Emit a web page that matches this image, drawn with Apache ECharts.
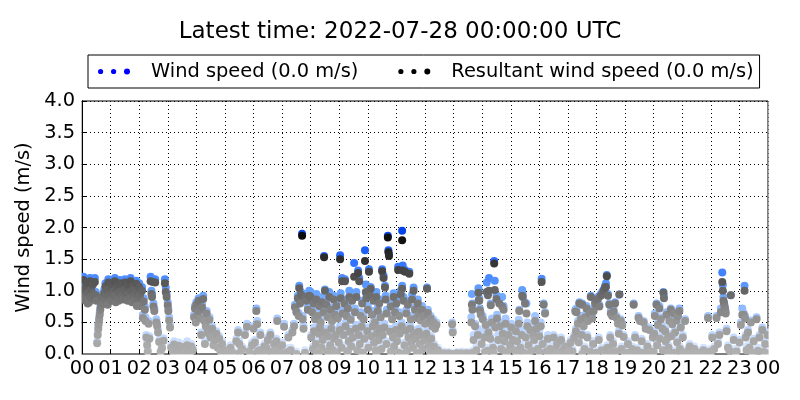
<!DOCTYPE html>
<html><head><meta charset="utf-8">
<script src="https://cdn.jsdelivr.net/npm/echarts@6/dist/echarts.min.js"></script>
<style>html,body{margin:0;padding:0;background:#fff}#chart{width:800px;height:400px}</style>
</head><body><div id="chart"></div>
<script>
// time of day (hours), one entry per sample
const hours = [
0.02,0.05,0.08,0.1,0.12,0.15,0.18,0.2,0.22,0.25,0.28,0.3,0.32,0.35,0.38,0.4,0.42,0.45,0.48,0.5,
0.53,0.55,0.57,0.58,0.6,0.62,0.64,0.66,0.68,0.7,
0.72,0.75,0.78,0.8,0.82,0.85,0.88,0.9,0.92,0.95,0.98,1.0,1.02,1.05,1.08,1.1,1.12,1.15,1.18,1.2,1.22,1.25,1.28,1.3,1.32,1.35,1.38,1.4,1.42,1.45,1.48,1.5,1.52,1.55,1.58,1.6,1.62,1.65,1.68,1.7,1.72,1.75,1.78,1.8,1.82,1.85,1.88,1.9,1.92,1.95,1.98,
2.0,2.03,2.06,2.1,2.13,2.16,2.2,2.22,2.25,2.28,2.3,2.33,2.36,2.4,2.43,2.45,2.48,2.5,2.53,2.56,2.6,2.63,2.66,2.7,2.75,2.8,2.85,2.9,2.93,2.96,3.0,3.02,3.05,3.08,
3.12,3.18,3.22,3.28,3.32,3.38,3.42,3.48,3.52,3.58,3.62,3.68,3.72,3.78,3.82,3.88,
3.92,3.95,3.98,4.0,4.04,4.08,4.1,4.14,4.17,4.2,4.24,4.28,4.3,4.33,4.36,4.4,4.43,4.46,4.5,4.55,4.6,4.65,4.7,4.75,4.8,4.85,4.9,
5.0,5.1,5.2,5.3,5.4,5.46,5.5,5.6,5.7,5.77,5.85,5.95,6.0,6.05,6.1,6.13,6.2,6.24,6.3,6.38,6.45,6.5,6.59,6.65,6.72,6.8,6.83,6.9,7.0,7.07,7.15,7.22,7.3,7.36,7.42,
7.45,7.5,7.55,7.58,7.6,7.63,7.66,7.7,7.72,7.75,7.8,7.85,7.9,7.95,8.0,
8.47,9.03,9.1,9.2,9.52,9.66,9.7,9.9,10.04,10.1,10.5,10.55,10.6,10.7,10.72,10.74,11.06,11.2,11.22,11.3,11.45,11.6,12.07,8.5,9.93,11.2,
8.05,8.1,8.15,8.2,8.25,8.3,8.35,8.4,8.45,8.55,8.6,8.65,8.7,8.75,8.8,8.85,8.9,8.95,9.05,9.12,9.18,9.25,9.3,9.35,9.4,9.45,9.55,9.6,9.75,9.8,9.85,9.95,10.0,10.08,10.15,10.2,10.25,10.3,10.35,10.4,10.45,10.62,10.66,10.8,10.85,10.9,10.95,11.0,11.1,11.15,11.25,11.35,11.4,11.5,11.55,11.65,11.7,11.75,11.8,11.85,11.9,11.95,12.0,12.1,12.15,12.2,12.25,12.3,12.35,12.4,
8.02,8.08,8.12,8.18,8.22,8.28,8.32,8.38,8.42,8.5,8.58,8.62,8.68,8.72,8.78,8.82,8.88,8.92,8.98,9.02,9.08,9.15,9.22,9.28,9.33,9.38,9.42,9.48,9.58,9.63,9.68,9.72,9.78,9.83,9.88,9.98,10.02,10.12,10.18,10.22,10.28,10.32,10.38,10.42,10.48,10.52,10.58,10.65,10.78,10.82,10.88,10.92,10.98,11.02,11.08,11.12,11.18,11.28,11.32,11.38,11.42,11.48,11.52,11.58,11.62,11.68,11.72,11.78,11.82,11.88,11.92,11.98,12.05,12.12,12.18,12.22,12.28,12.32,12.38,12.45,
12.5,12.58,12.66,12.74,12.82,12.9,12.95,12.97,13.05,13.12,13.2,13.28,13.36,13.44,13.52,13.6,
13.64,13.66,13.87,13.88,13.9,13.92,13.95,14.16,14.2,14.24,14.3,14.42,14.44,14.5,14.6,14.7,14.75,15.3,15.4,15.42,15.5,15.55,15.85,16.08,16.15,16.2,
13.62,13.7,13.75,13.8,13.85,13.98,14.02,14.08,14.12,14.18,14.22,14.28,14.34,14.38,14.46,14.52,14.56,14.62,14.66,14.72,14.78,14.82,14.88,14.92,14.98,15.02,15.08,15.12,15.18,15.22,15.28,15.34,15.38,15.46,15.52,15.58,15.62,15.68,15.72,15.78,15.82,15.9,15.95,16.0,16.05,16.12,16.25,16.3,16.38,16.45,
16.5,16.56,16.62,16.7,16.76,16.82,16.9,16.96,17.02,17.1,17.16,17.22,
17.26,17.3,17.35,17.4,17.45,17.5,17.55,17.6,17.65,17.7,17.75,17.8,17.85,17.9,17.95,18.0,18.05,18.1,18.15,18.2,18.25,18.3,18.33,18.36,18.4,18.45,18.5,18.55,18.6,18.65,18.7,18.75,18.8,18.85,18.9,18.95,
17.28,17.38,17.48,17.58,17.68,17.78,17.88,17.98,18.08,18.18,18.28,18.38,18.48,18.58,18.68,18.78,18.88,18.98,
19.05,19.1,19.18,19.25,19.3,19.35,19.42,19.47,19.52,19.58,19.65,19.72,19.78,19.85,19.92,19.97,
20.04,20.1,20.15,20.2,20.25,20.3,20.34,20.36,20.4,20.45,20.5,20.55,20.6,20.65,20.7,20.75,20.8,20.85,20.9,20.95,
20.02,20.12,20.22,20.32,20.42,20.52,20.62,20.72,20.82,20.92,21.02,21.1,21.18,21.26,21.34,21.42,21.5,21.58,21.66,21.74,21.82,21.9,21.98,
22.05,22.12,22.2,22.25,22.3,22.35,22.4,22.42,22.44,22.46,22.48,22.5,22.52,22.55,22.6,22.7,22.8,22.9,23.0,23.05,23.1,23.15,23.18,23.2,23.22,23.3,23.35,23.4,23.5,23.6,23.7,23.8,23.9,23.98,
5.05,5.25,5.55,5.9,6.15,6.4,6.7,6.95,7.2,7.5,7.8,8.3,8.8,9.3,9.8,10.3,10.8,11.3,11.8,12.2,12.3,12.4,13.7,14.1,14.4,14.8,15.2,15.6,16.0,16.3,16.6,17.0,17.5,18.0,18.5,19.0,19.2,19.4,19.6,19.8,20.0,20.5,21.0,21.2,21.4,21.6,21.8,22.0,22.65,22.85,23.25,23.45,23.65,23.85,23.95
];

// wind speed (m/s)
const windSpeed = [
1.05,1.22,0.95,0.88,1.12,0.92,1.18,0.82,1.02,0.86,1.2,0.95,1.08,0.9,1.15,1.0,0.96,1.2,0.98,0.88,
0.2,0.34,0.44,0.5,0.58,0.66,0.74,0.8,0.92,0.86,
0.95,0.84,1.02,0.9,1.12,0.98,1.06,0.82,1.18,0.94,1.0,1.1,0.88,1.16,0.9,1.04,0.96,1.2,0.86,1.08,0.95,1.12,0.88,1.02,1.17,0.92,1.05,0.98,1.14,0.9,1.06,1.18,0.94,1.02,1.1,0.88,1.15,1.0,0.92,1.2,1.04,0.86,1.12,0.96,1.06,0.9,1.0,1.16,0.8,1.05,0.92,
1.12,0.98,0.8,1.06,0.62,0.88,0.75,0.58,0.3,0.18,0.08,0.52,0.28,1.22,1.0,0.95,1.18,0.8,0.72,1.18,0.55,0.48,0.38,0.22,0.06,0.12,0.25,1.18,1.05,0.95,0.82,0.72,0.58,0.46,
0.14,0.08,0.2,0.06,0.12,0.18,0.05,0.1,0.15,0.04,0.09,0.2,0.12,0.06,0.16,0.1,
0.62,0.76,0.55,0.82,0.66,0.88,0.72,0.6,0.34,0.78,0.92,0.56,0.2,0.48,0.68,0.42,0.36,0.58,0.3,0.44,0.18,0.26,0.36,0.14,0.28,0.08,0.2,
0.1,0.06,0.14,0.04,0.24,0.38,0.2,0.12,0.34,0.48,0.08,0.18,0.44,0.22,0.72,0.52,0.1,0.34,0.06,0.16,0.14,0.26,0.34,0.08,0.2,0.24,0.56,0.12,0.18,0.48,0.06,0.3,0.1,0.38,0.48,
0.78,0.7,0.92,0.65,1.08,0.85,0.98,1.9,0.6,0.45,0.95,0.88,0.75,1.0,0.98,
1.55,1.56,1.2,1.18,1.44,1.32,1.2,1.64,1.34,1.06,1.34,1.24,1.08,1.87,1.64,1.58,1.38,1.95,1.4,1.33,1.3,1.05,1.05,1.02,1.1,1.08,
0.72,0.88,0.6,0.95,0.66,0.8,0.55,0.9,0.7,0.85,0.62,0.98,0.74,0.58,0.92,0.68,0.82,0.6,0.96,0.7,0.86,0.64,0.78,1.0,0.58,0.9,0.72,0.98,0.66,0.84,0.6,0.94,0.76,1.0,0.68,0.9,0.56,0.98,0.74,0.86,0.62,0.92,0.7,0.8,0.6,0.96,0.72,0.88,0.66,1.0,0.9,0.7,0.84,0.6,0.94,0.74,0.62,0.86,0.68,0.58,0.76,0.64,0.52,0.7,0.56,0.6,0.48,0.54,0.44,0.5,
0.3,0.12,0.42,0.2,0.05,0.36,0.48,0.15,0.26,0.4,0.08,0.32,0.18,0.45,0.1,0.28,0.38,0.06,0.22,0.44,0.14,0.34,0.5,0.08,0.25,0.4,0.16,0.3,0.46,0.1,0.36,0.2,0.48,0.06,0.28,0.42,0.15,0.32,0.5,0.22,0.1,0.38,0.26,0.45,0.12,0.34,0.48,0.2,0.4,0.08,0.3,0.16,0.44,0.24,0.05,0.36,0.5,0.18,0.42,0.1,0.3,0.46,0.22,0.14,0.38,0.28,0.06,0.4,0.2,0.34,0.12,0.26,0.36,0.18,0.08,0.28,0.04,0.16,0.06,0.1,
0.03,0.02,0.04,0.02,0.03,0.02,0.5,0.37,0.02,0.03,0.02,0.04,0.02,0.03,0.02,0.04,
0.95,0.8,1.04,0.98,0.88,0.72,0.66,1.13,0.98,1.2,0.8,1.47,1.16,0.93,0.88,0.9,0.76,0.7,1.01,0.94,0.82,0.8,0.6,1.19,0.8,0.66,
0.58,0.3,0.48,0.12,0.4,0.22,0.6,0.35,0.5,0.1,0.44,0.28,0.56,0.18,0.46,0.62,0.3,0.5,0.14,0.4,0.24,0.56,0.08,0.36,0.2,0.48,0.3,0.12,0.42,0.26,0.54,0.16,0.38,0.06,0.32,0.5,0.2,0.44,0.1,0.36,0.28,0.48,0.14,0.34,0.5,0.22,0.08,0.3,0.14,0.04,
0.3,0.12,0.2,0.06,0.26,0.1,0.16,0.04,0.12,0.22,0.08,0.3,
0.7,0.72,0.52,0.82,0.6,0.8,0.48,0.62,0.76,0.56,0.68,0.92,0.6,0.72,0.84,0.88,0.9,0.78,0.95,0.98,1.02,1.08,1.12,1.25,0.95,0.8,0.68,0.62,0.7,0.82,0.6,0.5,0.94,0.55,0.48,0.3,
0.4,0.22,0.34,0.12,0.3,0.08,0.2,0.04,0.26,0.1,0.06,0.14,0.3,0.2,0.08,0.36,0.12,0.04,
0.06,0.2,0.04,0.12,0.8,0.3,0.1,0.6,0.54,0.24,0.52,0.44,0.16,0.42,0.08,0.3,
0.64,0.8,0.5,0.76,0.58,0.45,0.98,0.92,0.4,0.66,0.3,0.56,0.72,0.5,0.66,0.38,0.56,0.62,0.72,0.46,
0.36,0.18,0.28,0.1,0.24,0.14,0.32,0.06,0.22,0.12,0.3,0.55,0.08,0.16,0.04,0.12,0.02,0.06,0.04,0.1,0.03,0.6,0.08,
0.3,0.12,0.6,0.2,0.34,0.72,1.29,1.09,0.9,0.82,0.77,0.73,0.67,0.4,0.14,0.93,0.26,0.08,0.22,0.5,0.72,0.65,1.08,0.6,0.3,0.38,0.14,0.53,0.24,0.58,0.3,0.42,0.2,0.34,
0.06,0.04,0.08,0.05,0.1,0.04,0.07,0.05,0.09,0.04,0.06,0.08,0.05,0.1,0.06,0.04,0.08,0.05,0.07,0.04,0.03,0.04,0.06,0.08,0.05,0.1,0.07,0.04,0.09,0.06,0.05,0.08,0.04,0.06,0.1,0.05,0.03,0.04,0.06,0.05,0.08,0.06,0.04,0.03,0.05,0.04,0.03,0.06,0.1,0.08,0.12,0.06,0.1,0.08,0.05
];

// resultant wind speed (m/s)
const resultantSpeed = [
1.0,1.17,0.9,0.85,1.06,0.86,1.12,0.8,0.97,0.82,1.15,0.9,1.02,0.88,1.1,0.95,0.92,1.14,0.93,0.84,
0.17,0.3,0.4,0.47,0.55,0.62,0.7,0.76,0.88,0.82,
0.9,0.8,0.97,0.86,1.07,0.93,1.01,0.78,1.13,0.9,0.95,1.05,0.84,1.1,0.86,0.99,0.92,1.15,0.82,1.03,0.9,1.07,0.84,0.97,1.12,0.88,1.0,0.93,1.09,0.86,1.01,1.13,0.9,0.97,1.05,0.84,1.1,0.95,0.88,1.15,0.99,0.82,1.07,0.91,1.01,0.86,0.95,1.11,0.76,1.0,0.88,
1.06,0.93,0.76,1.0,0.57,0.83,0.7,0.52,0.26,0.14,0.04,0.48,0.24,1.15,0.95,0.9,1.14,0.75,0.68,1.13,0.5,0.44,0.34,0.19,0.03,0.09,0.21,1.12,0.98,0.9,0.77,0.68,0.53,0.42,
0.1,0.04,0.15,0.02,0.08,0.13,0.01,0.06,0.11,0.01,0.05,0.14,0.08,0.02,0.12,0.06,
0.58,0.72,0.5,0.78,0.62,0.84,0.68,0.56,0.3,0.74,0.87,0.52,0.16,0.44,0.64,0.38,0.32,0.54,0.26,0.4,0.14,0.22,0.32,0.1,0.24,0.04,0.16,
0.06,0.02,0.1,0.01,0.2,0.34,0.16,0.08,0.3,0.43,0.04,0.14,0.4,0.18,0.68,0.47,0.06,0.3,0.02,0.12,0.1,0.22,0.3,0.04,0.16,0.2,0.52,0.08,0.14,0.43,0.02,0.26,0.06,0.34,0.44,
0.74,0.66,0.88,0.6,1.04,0.8,0.94,1.87,0.55,0.4,0.9,0.84,0.7,0.92,0.9,
1.53,1.5,1.15,1.15,1.22,1.28,1.15,1.47,1.3,1.03,1.31,1.2,1.05,1.84,1.61,1.55,1.33,1.8,1.32,1.3,1.27,1.0,1.03,1.0,0.98,1.03,
0.66,0.8,0.55,0.86,0.6,0.76,0.5,0.82,0.66,0.78,0.58,0.9,0.7,0.52,0.86,0.62,0.76,0.56,0.88,0.64,0.8,0.6,0.72,0.9,0.54,0.84,0.66,0.9,0.6,0.8,0.55,0.88,0.7,0.92,0.62,0.84,0.5,0.9,0.68,0.8,0.58,0.86,0.64,0.75,0.55,0.9,0.66,0.8,0.6,0.94,0.84,0.64,0.78,0.55,0.86,0.7,0.57,0.8,0.62,0.53,0.7,0.6,0.48,0.65,0.5,0.56,0.44,0.5,0.4,0.46,
0.26,0.08,0.36,0.16,0.02,0.32,0.42,0.1,0.22,0.34,0.04,0.28,0.14,0.4,0.06,0.24,0.3,0.02,0.18,0.38,0.1,0.3,0.44,0.04,0.2,0.35,0.12,0.26,0.4,0.06,0.3,0.16,0.43,0.02,0.24,0.36,0.1,0.28,0.44,0.18,0.06,0.33,0.22,0.4,0.08,0.3,0.42,0.16,0.35,0.04,0.26,0.12,0.38,0.2,0.02,0.32,0.44,0.14,0.37,0.06,0.26,0.4,0.18,0.1,0.33,0.24,0.02,0.35,0.16,0.3,0.08,0.22,0.32,0.14,0.04,0.24,0.01,0.12,0.02,0.06,
0.01,0.0,0.01,0.0,0.01,0.0,0.47,0.34,0.0,0.01,0.0,0.01,0.0,0.01,0.0,0.01,
0.78,0.7,0.97,0.85,0.84,0.69,0.62,0.98,0.93,1.0,0.77,1.43,1.01,0.87,0.8,0.75,0.7,0.68,0.92,0.9,0.8,0.64,0.52,1.14,0.78,0.64,
0.5,0.22,0.44,0.06,0.3,0.16,0.55,0.26,0.46,0.05,0.34,0.24,0.5,0.1,0.42,0.56,0.22,0.44,0.08,0.32,0.2,0.48,0.03,0.3,0.14,0.42,0.22,0.06,0.36,0.2,0.48,0.1,0.3,0.02,0.26,0.44,0.14,0.38,0.05,0.3,0.22,0.4,0.08,0.28,0.44,0.16,0.04,0.24,0.08,0.01,
0.26,0.08,0.16,0.02,0.22,0.06,0.12,0.01,0.08,0.18,0.04,0.26,
0.67,0.66,0.48,0.8,0.55,0.78,0.44,0.58,0.72,0.52,0.64,0.9,0.56,0.68,0.8,0.86,0.87,0.75,0.92,0.95,1.0,1.05,1.06,1.23,0.92,0.78,0.64,0.6,0.67,0.8,0.57,0.48,0.94,0.52,0.45,0.27,
0.36,0.18,0.3,0.08,0.26,0.04,0.16,0.01,0.22,0.06,0.02,0.1,0.26,0.16,0.04,0.32,0.08,0.01,
0.02,0.16,0.01,0.08,0.78,0.26,0.06,0.57,0.52,0.2,0.5,0.4,0.12,0.38,0.04,0.26,
0.6,0.78,0.46,0.72,0.55,0.4,0.97,0.88,0.36,0.62,0.26,0.52,0.7,0.47,0.64,0.34,0.53,0.6,0.68,0.42,
0.32,0.14,0.24,0.06,0.2,0.1,0.28,0.02,0.18,0.08,0.26,0.52,0.04,0.12,0.01,0.08,0.0,0.02,0.01,0.06,0.0,0.57,0.04,
0.26,0.08,0.57,0.16,0.3,0.66,1.14,1.0,0.84,0.8,0.74,0.7,0.64,0.36,0.1,0.93,0.22,0.04,0.18,0.46,0.62,0.62,1.0,0.56,0.26,0.34,0.1,0.5,0.2,0.55,0.26,0.38,0.16,0.3,
0.02,0.01,0.03,0.01,0.04,0.0,0.02,0.01,0.03,0.0,0.02,0.03,0.01,0.04,0.02,0.0,0.03,0.01,0.02,0.0,0.0,0.01,0.02,0.03,0.01,0.04,0.02,0.0,0.03,0.02,0.01,0.03,0.0,0.02,0.04,0.01,0.0,0.0,0.02,0.01,0.03,0.02,0.0,0.0,0.01,0.0,0.0,0.02,0.05,0.03,0.06,0.02,0.05,0.03,0.01
];

const hourLabels = ['00','01','02','03','04','05','06','07','08','09','10','11','12',
  '13','14','15','16','17','18','19','20','21','22','23','00'];
const speedTicks = ['0.0','0.5','1.0','1.5','2.0','2.5','3.0','3.5','4.0'];
const seriesNames = ['Wind speed (0.0 m/s)', 'Resultant wind speed (0.0 m/s)'];
const titleText = 'Latest time: 2022-07-28 00:00:00 UTC';

const n = Math.min(hours.length, windSpeed.length, resultantSpeed.length);
const windData = [], resData = [];
for (let i = 0; i < n; i++) {
  windData.push([hours[i], windSpeed[i]]);
  resData.push([hours[i], resultantSpeed[i]]);
}

const FONT = 'DejaVu Sans';
const LBL = 19.4;
const dotsIcon = 'path://M0,4a2.6,2.6 0 1,0 5.2,0a2.6,2.6 0 1,0 -5.2,0Z M13,4a2.6,2.6 0 1,0 5.2,0a2.6,2.6 0 1,0 -5.2,0Z M26,4a3,3 0 1,0 6,0a3,3 0 1,0 -6,0Z';

const chart = echarts.init(document.getElementById('chart'), null, {renderer: 'canvas'});
const gridLine = {show: true, lineStyle: {color: '#000', width: 1, type: [1, 3]}};
chart.setOption({
  animation: false,
  backgroundColor: '#fff',
  textStyle: {fontFamily: FONT},
  title: {
    text: titleText, left: 'center', top: 21, padding: [0, 0, 0, 50],
    textStyle: {fontFamily: FONT, fontSize: 23, fontWeight: 'normal', color: '#000'}
  },
  legend: {
    left: 88, top: 55, orient: 'horizontal',
    padding: [7, 6, 7, 10], itemGap: 40, itemWidth: 32, itemHeight: 8,
    borderColor: '#000', borderWidth: 1, borderRadius: 0, backgroundColor: '#fff',
    formatter: name => '{t|' + name + '}',
    textStyle: {fontFamily: FONT, fontSize: LBL, color: '#000',
      rich: {t: {fontFamily: FONT, fontSize: LBL, color: '#000', padding: [0, 0, 0, 16]}}},
    data: [
      {name: seriesNames[0], icon: dotsIcon, itemStyle: {color: '#0000ff'}},
      {name: seriesNames[1], icon: dotsIcon, itemStyle: {color: '#000000'}}
    ],
    selectedMode: false
  },
  grid: {left: 82, right: 32, top: 101, bottom: 46, show: true, borderColor: '#000', borderWidth: 1, backgroundColor: 'transparent'},
  xAxis: [{
    type: 'value', min: 0, max: 24, interval: 1, position: 'bottom',
    axisLine: {show: true, lineStyle: {color: '#000'}},
    axisTick: {show: true, inside: true, length: 4, lineStyle: {color: '#000'}},
    axisLabel: {fontFamily: FONT, fontSize: LBL, color: '#000', margin: 5, formatter: v => hourLabels[Math.round(v)]},
    splitLine: gridLine
  }, {
    type: 'value', min: 0, max: 24, interval: 1, position: 'top',
    axisLine: {show: true, lineStyle: {color: '#000'}},
    axisTick: {show: true, inside: true, length: 4, lineStyle: {color: '#000'}},
    axisLabel: {show: false}, splitLine: {show: false}
  }],
  yAxis: [{
    type: 'value', min: 0, max: 4, interval: 0.5, position: 'left',
    name: 'Wind speed (m/s)', nameLocation: 'middle', nameGap: 43, nameRotate: 90,
    nameTextStyle: {fontFamily: FONT, fontSize: LBL, color: '#000'},
    axisLine: {show: true, lineStyle: {color: '#000'}},
    axisTick: {show: true, inside: true, length: 4, lineStyle: {color: '#000'}},
    axisLabel: {fontFamily: FONT, fontSize: LBL, color: '#000', margin: 7, formatter: v => speedTicks[Math.round(v * 2)]},
    splitLine: gridLine
  }, {
    type: 'value', min: 0, max: 4, interval: 0.5, position: 'right',
    axisLine: {show: true, lineStyle: {color: '#000'}},
    axisTick: {show: true, inside: true, length: 4, lineStyle: {color: '#000'}},
    axisLabel: {show: false}, splitLine: {show: false}
  }],
  visualMap: [{
    type: 'continuous', show: false, seriesIndex: 0, dimension: 1, min: 0, max: 2,
    inRange: {color: ['#dce9ff', '#b0ceff', '#63a0ff', '#2a6cff', '#0040e8']}
  }, {
    type: 'continuous', show: false, seriesIndex: 1, dimension: 1, min: 0, max: 2,
    inRange: {color: ['#b0b0b0', '#999999', '#656565', '#2e2e2e', '#000000']}
  }],
  series: [{
    name: seriesNames[0], type: 'scatter', data: windData, symbolSize: 8,
    xAxisIndex: 0, yAxisIndex: 0, itemStyle: {opacity: 1}, z: 2
  }, {
    name: seriesNames[1], type: 'scatter', data: resData, symbolSize: 8,
    xAxisIndex: 0, yAxisIndex: 0, itemStyle: {opacity: 1}, z: 3
  }],
  graphic: [
    {type: 'rect', z: 100, silent: true, shape: {x: 70, y: 354.6, width: 710, height: 4.5}, style: {fill: '#fff'}},
    {type: 'rect', z: 100, silent: true, shape: {x: 76.5, y: 96, width: 5, height: 262}, style: {fill: '#fff'}},
    {type: 'rect', z: 100, silent: true, shape: {x: 768.6, y: 96, width: 6, height: 262}, style: {fill: '#fff'}}
  ]
});
</script>
</body></html>
